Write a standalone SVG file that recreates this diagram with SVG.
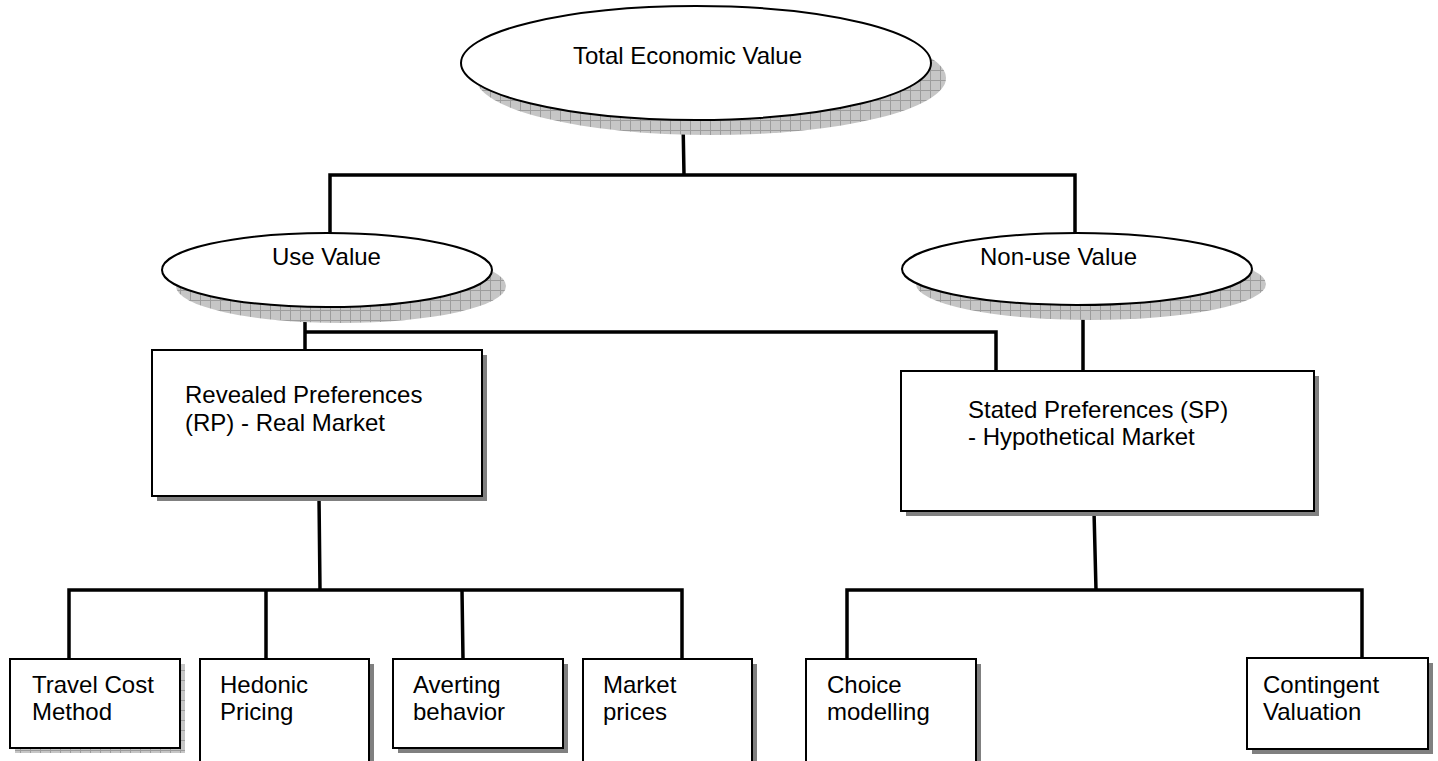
<svg xmlns="http://www.w3.org/2000/svg" width="1438" height="761" viewBox="0 0 1438 761">
<style>
.n{fill:#fff;stroke:#000;stroke-width:2}
.sh{fill:#808080}
.gs{fill:url(#grid)}
.t{font-family:"Liberation Sans",Arial,sans-serif;font-size:24px;fill:#000}
.c{fill:none;stroke:#000;stroke-width:3.5;stroke-linecap:square}
</style>
<defs>
<pattern id="grid" width="10" height="10" patternUnits="userSpaceOnUse">
<rect width="10" height="10" fill="#c6c6c6"/>
<path d="M0 0.5H10M0.5 0V10" stroke="#9c9c9c" stroke-width="1"/>
</pattern>
</defs>
<rect width="1438" height="761" fill="#fff"/>
<g id="connectors">
<path class="c" d="M683 120L684 175M330 175H1075M330 175V233M1075 175V233"/>
<path class="c" d="M305 307V350M305 332H996V371M1083 305V371"/>
<path class="c" d="M319 496L320 590M69 590H682M69 590V659M266 590V659M462 590L463 659M682 590V659"/>
<path class="c" d="M1094 511L1096 590M847 590H1362M847 590V659M1362 590V658"/>
</g>
<g id="total-economic-value">
<ellipse class="gs" cx="711" cy="78" rx="235" ry="57"/>
<ellipse class="n" cx="696" cy="63" rx="235" ry="57"/>
<text class="t" x="573" y="64">Total Economic Value</text>
</g>
<g id="use-value">
<ellipse class="gs" cx="341" cy="286" rx="165" ry="37"/>
<ellipse class="n" cx="327" cy="270" rx="165" ry="37"/>
<text class="t" x="272" y="265">Use Value</text>
</g>
<g id="non-use-value">
<ellipse class="gs" cx="1091" cy="284" rx="175" ry="36"/>
<ellipse class="n" cx="1077" cy="269" rx="175" ry="36"/>
<text class="t" x="980" y="265">Non-use Value</text>
</g>
<g id="revealed-preferences">
<rect class="sh" x="157" y="355" width="330" height="146"/>
<rect class="n" x="152" y="350" width="330" height="146"/>
<text class="t" x="185" y="403">Revealed Preferences</text>
<text class="t" x="185" y="431">(RP) - Real Market</text>
</g>
<g id="stated-preferences">
<rect class="sh" x="906" y="376" width="413" height="140"/>
<rect class="n" x="901" y="371" width="413" height="140"/>
<text class="t" x="968" y="418">Stated Preferences (SP)</text>
<text class="t" x="968" y="445">- Hypothetical Market</text>
</g>
<g id="travel-cost-method">
<rect class="gs" x="15" y="664" width="170" height="89"/>
<rect class="n" x="10" y="659" width="170" height="89"/>
<text class="t" x="32" y="693">Travel Cost</text>
<text class="t" x="32" y="720">Method</text>
</g>
<g id="hedonic-pricing">
<rect class="sh" x="205" y="664" width="169" height="110"/>
<rect class="n" x="200" y="659" width="169" height="104"/>
<text class="t" x="220" y="693">Hedonic</text>
<text class="t" x="220" y="720">Pricing</text>
</g>
<g id="averting-behavior">
<rect class="sh" x="398" y="664" width="170" height="89"/>
<rect class="n" x="393" y="659" width="170" height="89"/>
<text class="t" x="413" y="693">Averting</text>
<text class="t" x="413" y="720">behavior</text>
</g>
<g id="market-prices">
<rect class="sh" x="588" y="664" width="169" height="110"/>
<rect class="n" x="583" y="659" width="169" height="104"/>
<text class="t" x="603" y="693">Market</text>
<text class="t" x="603" y="720">prices</text>
</g>
<g id="choice-modelling">
<rect class="sh" x="811" y="664" width="170" height="110"/>
<rect class="n" x="806" y="659" width="170" height="104"/>
<text class="t" x="827" y="693">Choice</text>
<text class="t" x="827" y="720">modelling</text>
</g>
<g id="contingent-valuation">
<rect class="sh" x="1252" y="663" width="181" height="91"/>
<rect class="n" x="1247" y="658" width="181" height="91"/>
<text class="t" x="1263" y="693">Contingent</text>
<text class="t" x="1263" y="720">Valuation</text>
</g>
</svg>
